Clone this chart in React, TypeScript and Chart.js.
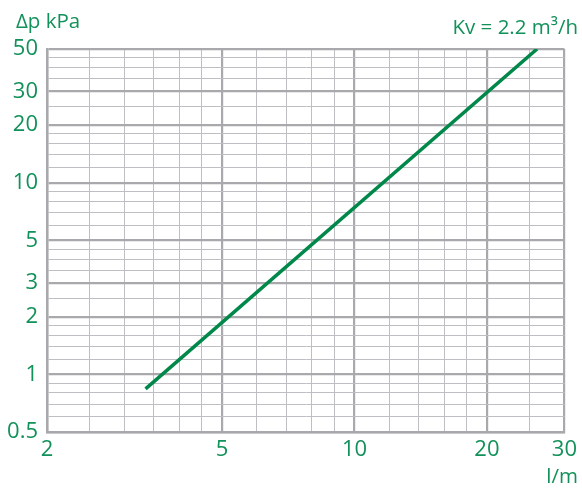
import React, { useEffect, useRef } from "react";
import { Chart, registerables } from "chart.js";

Chart.register(...registerables);

const FLOW_LPM = [3.35, 26];
const DP_KPA = [0.84, 50];

const X_GRID = [2, 2.5, 3, 3.5, 4, 4.5, 5, 6, 7, 8, 9, 10, 12, 14, 16, 18, 20, 25, 30];
const X_LABELS = [2, 5, 10, 20, 30];
const Y_GRID = [0.5, 0.6, 0.7, 0.8, 0.9, 1, 1.2, 1.4, 1.6, 1.8, 2, 2.5, 3, 3.5, 4, 4.5, 5, 6, 7, 8, 9, 10, 12, 14, 16, 18, 20, 25, 30, 35, 40, 45, 50];
const Y_LABELS = [0.5, 1, 2, 3, 5, 10, 20, 30, 50];

const Y_TITLE = "Δp kPa";
const X_TITLE = "l/m";
const SERIES_LABEL = "Kv = 2.2 m³/h";

const GREEN = "#00884a";
const TEXT_GREEN = "#13915a";
const MAJOR_GRID = "#a9a9ad";
const MINOR_GRID = "#bfbfc3";
const FONT = "'Open Sans', 'Noto Sans', sans-serif";

const textPlugin = {
  id: "texts",
  afterDraw(chart: any) {
    const { ctx, chartArea } = chart;
    ctx.save();
    ctx.fillStyle = TEXT_GREEN;
    ctx.font = `20.5px ${FONT}`;
    ctx.textBaseline = "alphabetic";
    ctx.textAlign = "left";
    ctx.fillText(Y_TITLE, 16, chartArea.top - 21);
    ctx.textAlign = "right";
    ctx.fillText(SERIES_LABEL, 578, chartArea.top - 15);
    ctx.fillText(X_TITLE, 578, chartArea.bottom + 51);
    ctx.restore();
  },
};

export default function App() {
  const ref = useRef<HTMLCanvasElement | null>(null);
  useEffect(() => {
    document.body.style.margin = "0";
    const canvas = ref.current!;
    const chart = new Chart(canvas, {
      type: "line",
      data: {
        datasets: [
          {
            label: SERIES_LABEL,
            data: FLOW_LPM.map((x, i) => ({ x, y: DP_KPA[i] })),
            borderColor: GREEN,
            borderWidth: 3.5,
            pointRadius: 0,
            fill: false,
            tension: 0,
          },
        ],
      },
      options: {
        responsive: false,
        animation: false,
        devicePixelRatio: 1,
        layout: { padding: { top: 49, right: 16, left: 0, bottom: 0 } },
        plugins: { legend: { display: false }, tooltip: { enabled: false }, title: { display: false } },
        scales: {
          x: {
            type: "logarithmic",
            min: 2,
            max: 30,
            afterBuildTicks: (scale: any) => {
              scale.ticks = X_GRID.map((v) => ({ value: v }));
            },
            afterFit: (scale: any) => {
              scale.height = 56;
            },
            ticks: {
              autoSkip: false,
              maxRotation: 0,
              padding: 5,
              color: TEXT_GREEN,
              font: { family: FONT, size: 22 },
              callback: (v: any) => (X_LABELS.includes(Number(v)) ? String(v) : ""),
            },
            grid: {
              drawTicks: false,
              color: (c: any) => (X_LABELS.includes(c.tick?.value) ? MAJOR_GRID : MINOR_GRID),
              lineWidth: (c: any) => (X_LABELS.includes(c.tick?.value) ? 2.2 : 1),
            },
            border: { display: true, color: MAJOR_GRID, width: 2.5 },
          },
          y: {
            type: "logarithmic",
            min: 0.5,
            max: 50,
            afterBuildTicks: (scale: any) => {
              scale.ticks = Y_GRID.map((v) => ({ value: v }));
            },
            afterFit: (scale: any) => {
              scale.width = 47;
            },
            ticks: {
              autoSkip: false,
              padding: 9,
              color: TEXT_GREEN,
              font: { family: FONT, size: 22 },
              callback: (v: any) => (Y_LABELS.includes(Number(v)) ? String(v) : ""),
            },
            grid: {
              drawTicks: false,
              color: (c: any) => (Y_LABELS.includes(c.tick?.value) ? MAJOR_GRID : MINOR_GRID),
              lineWidth: (c: any) => (Y_LABELS.includes(c.tick?.value) ? 2.2 : 1),
            },
            border: { display: true, color: MAJOR_GRID, width: 2.5 },
          },
        },
      },
      plugins: [textPlugin],
    });
    return () => chart.destroy();
  }, []);
  return (
    <div style={{ position: "fixed", left: 0, top: 0, width: 582, height: 488, background: "#fff" }}>
      <canvas ref={ref} width={582} height={488} style={{ width: 582, height: 488 }} />
    </div>
  );
}
